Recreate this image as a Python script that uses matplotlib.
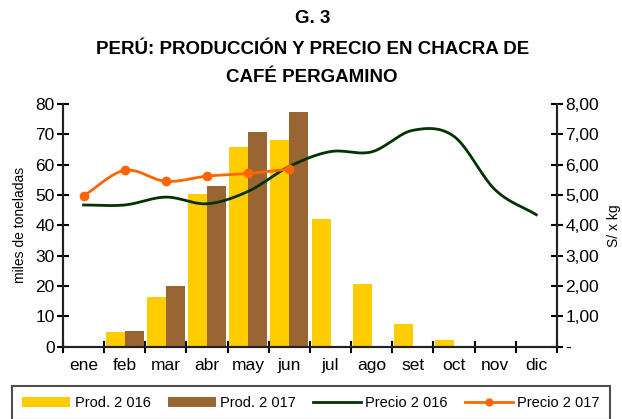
import numpy as np
import matplotlib
matplotlib.use("Agg")
import matplotlib.pyplot as plt
from matplotlib.ticker import FixedLocator

plt.rcParams['font.family'] = ['Liberation Sans Narrow', 'Liberation Sans', 'DejaVu Sans']

# datos
meses = ["ene", "feb", "mar", "abr", "may", "jun", "jul", "ago", "set", "oct", "nov", "dic"]
prod_2016 = [0.3, 4.8, 16.4, 50.4, 65.9, 68.2, 42.1, 20.7, 7.5, 2.2, 0, 0]
prod_2017 = [0, 5.3, 20.0, 53.0, 70.9, 77.4]
precio_2016 = [4.67, 4.67, 4.93, 4.71, 5.12, 5.94, 6.43, 6.42, 7.13, 6.93, 5.17, 4.35]
precio_2017 = [4.97, 5.81, 5.45, 5.62, 5.71, 5.85]

amarillo = "#FFCC00"
marron = "#996633"
verde = "#003300"
naranja = "#FF6600"


def suave(x, y, n=20):
    # curva suavizada tipo Excel (Catmull-Rom)
    x = np.asarray(x, float)
    y = np.asarray(y, float)
    px = np.concatenate([[2 * x[0] - x[1]], x, [2 * x[-1] - x[-2]]])
    py = np.concatenate([[2 * y[0] - y[1]], y, [2 * y[-1] - y[-2]]])
    xs, ys = [], []
    for i in range(1, len(px) - 2):
        t = np.linspace(0, 1, n, endpoint=False)
        for p, out in ((px, xs), (py, ys)):
            p0, p1, p2, p3 = p[i - 1], p[i], p[i + 1], p[i + 2]
            out.extend(0.5 * ((2 * p1) + (-p0 + p2) * t + (2 * p0 - 5 * p1 + 4 * p2 - p3) * t ** 2
                              + (-p0 + 3 * p1 - 3 * p2 + p3) * t ** 3))
    xs.append(x[-1])
    ys.append(y[-1])
    return np.array(xs), np.array(ys)


fig = plt.figure(figsize=(6.22, 4.19), dpi=100)
ax = fig.add_axes([0.1013, 0.1725, 0.794, 0.5795])
ax2 = ax.twinx()

x = np.arange(len(meses))
w = 0.46
b1 = ax.bar(x - w / 2, prod_2016, w, color=amarillo, label="Prod. 2 016", zorder=2)
b2 = ax.bar(x[:len(prod_2017)] + w / 2, prod_2017, w, color=marron, label="Prod. 2 017", zorder=2)

sx, sy = suave(x, precio_2016)
l1, = ax2.plot(sx, sy, color=verde, lw=2, label="Precio 2 016")
x17 = x[:len(precio_2017)]
sx, sy = suave(x17, precio_2017)
ax2.plot(sx, sy, color=naranja, lw=2)
ax2.plot(x17, precio_2017, "o", color=naranja, ms=6)
l2, = ax2.plot([], [], color=naranja, lw=2, marker="o", ms=5, label="Precio 2 017")

ax.set_xlim(-0.5, 11.5)
ax.set_ylim(0, 80)
ax2.set_ylim(0, 8)
ax.set_yticks(np.arange(0, 81, 10))
ax2.set_yticks(np.arange(0, 8.1, 1))
ax2.set_yticklabels(["-"] + [f"{v:.2f}".replace(".", ",") for v in np.arange(1, 8.1, 1)])

ax.set_xticks(x)
ax.set_xticklabels(meses)
ax.xaxis.set_minor_locator(FixedLocator(np.arange(-0.5, 12, 1)))
ax.tick_params(axis="x", which="major", length=0, labelsize=12.5, pad=8)
ax.tick_params(axis="x", which="minor", length=8, width=1.5, direction="inout")
ax.tick_params(axis="y", length=8, width=1.5, direction="inout", labelsize=12.5, pad=2)
ax2.tick_params(axis="y", length=8, width=1.5, direction="inout", labelsize=12.5, pad=2)

for a in (ax, ax2):
    a.spines["top"].set_visible(False)
    for s in ("left", "right", "bottom"):
        a.spines[s].set_linewidth(1.5)
        a.spines[s].set_color("#222222")
ax.set_ylabel("miles de toneladas", fontsize=10, labelpad=6)
ax2.set_ylabel("S/ x kg", fontsize=10, labelpad=6)

fig.text(0.502, 0.957, "G. 3", ha="center", va="center", fontsize=13.5, fontweight="bold")
fig.text(0.502, 0.882, "PERÚ: PRODUCCIÓN Y PRECIO EN CHACRA DE", ha="center", va="center",
         fontsize=13.5, fontweight="bold")
fig.text(0.502, 0.814, "CAFÉ PERGAMINO", ha="center", va="center", fontsize=13.5, fontweight="bold")

leg = fig.legend(handles=[b1, b2, l1, l2], loc="lower left",
                 bbox_to_anchor=(0.0193, -0.003, 0.9614, 0.1), mode="expand",
                 ncol=4, fontsize=10.5, frameon=True, fancybox=False, handlelength=3.3,
                 handletextpad=0.3, columnspacing=0.6, borderpad=0.7, borderaxespad=0)
leg.get_frame().set_edgecolor("#222222")
leg.get_frame().set_linewidth(1.5)

fig.savefig("out.png", dpi=100)
